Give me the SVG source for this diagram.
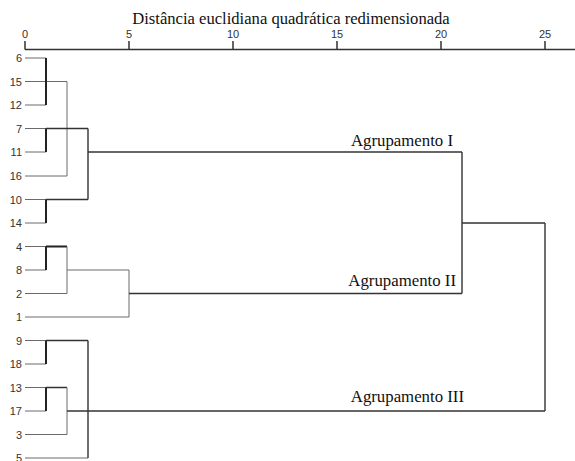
<svg xmlns="http://www.w3.org/2000/svg" width="575" height="461" viewBox="0 0 575 461">
<style>
.title{font-family:"Liberation Serif","Times New Roman",serif;font-size:16.6px;fill:#111}
.grp{font-family:"Liberation Serif","Times New Roman",serif;font-size:16.8px;fill:#111;text-anchor:end}
.tick{font-family:"Liberation Sans",Arial,sans-serif;font-size:11px;fill:#333;text-anchor:middle}
.leaf{font-family:"Liberation Sans",Arial,sans-serif;font-size:11px;fill:#333;text-anchor:end}
.thin{stroke:#6a6a6a;stroke-width:1;fill:none}
.thick{stroke:#222;stroke-width:2;fill:none}
.mid{stroke:#333;stroke-width:1.4;fill:none}
.axis{stroke:#333;stroke-width:1.5;fill:none}
</style>
<rect width="575" height="461" fill="#fff"/>
<g id="axis">
<text class="title" x="291" y="24" text-anchor="middle">Distância euclidiana quadrática redimensionada</text>
<line class="axis" x1="25" y1="49.5" x2="575" y2="49.5"/>
<path class="axis" d="M25 41V49.5M129 41V49.5M233 41V49.5M337 41V49.5M441 41V49.5M545 41V49.5"/>
<text class="tick" x="25" y="38">0</text>
<text class="tick" x="129" y="38">5</text>
<text class="tick" x="233" y="38">10</text>
<text class="tick" x="337" y="38">15</text>
<text class="tick" x="441" y="38">20</text>
<text class="tick" x="545" y="38">25</text>
</g>
<g id="leaves">
<g id="leaf-6"><text class="leaf" x="22" y="62">6</text></g>
<g id="leaf-15"><text class="leaf" x="22" y="85.5">15</text></g>
<g id="leaf-12"><text class="leaf" x="22" y="109">12</text></g>
<g id="leaf-7"><text class="leaf" x="22" y="132.5">7</text></g>
<g id="leaf-11"><text class="leaf" x="22" y="156">11</text></g>
<g id="leaf-16"><text class="leaf" x="22" y="180">16</text></g>
<g id="leaf-10"><text class="leaf" x="22" y="203.5">10</text></g>
<g id="leaf-14"><text class="leaf" x="22" y="227">14</text></g>
<g id="leaf-4"><text class="leaf" x="22" y="250.5">4</text></g>
<g id="leaf-8"><text class="leaf" x="22" y="274">8</text></g>
<g id="leaf-2"><text class="leaf" x="22" y="297.5">2</text></g>
<g id="leaf-1"><text class="leaf" x="22" y="321">1</text></g>
<g id="leaf-9"><text class="leaf" x="22" y="344.5">9</text></g>
<g id="leaf-18"><text class="leaf" x="22" y="368">18</text></g>
<g id="leaf-13"><text class="leaf" x="22" y="391.5">13</text></g>
<g id="leaf-17"><text class="leaf" x="22" y="415">17</text></g>
<g id="leaf-3"><text class="leaf" x="22" y="438.5">3</text></g>
<g id="leaf-5"><text class="leaf" x="22" y="461.5">5</text></g>
</g>
<g id="connectors">
<path class="thin" d="M25 58H46M25 81.5H67M25 105H46M25 128.5H46M25 152H46M25 176H67M25 199.5H46M25 223H46M25 246.5H46M25 270H46M25 293.5H67M25 317H129M25 340.5H46M25 364H46M25 387.5H46M25 411H46M25 434.5H67M25 458H88"/>
<path class="thick" d="M46 58V105M46 128.5V152M46 199.5V223"/>
<path class="thin" d="M67 81.5V176"/>
<path class="mid" d="M46 128.5H88M46 199.5H88M88 128.5V199.5"/>
<path class="mid" d="M88 152H462"/>
<path class="thick" d="M46 246.5V270M46 246.5H67"/>
<path class="thin" d="M67 246.5V293.5M67 270H129M129 270V317"/>
<path class="mid" d="M129 293.5H462"/>
<path class="thick" d="M46 340.5V364M46 387.5V411"/>
<path class="mid" d="M46 340.5H88M46 387.5H67M88 340.5V458"/>
<path class="thin" d="M67 387.5V434.5"/>
<path class="mid" d="M67 411H545"/>
<path class="mid" d="M462 152V293.5M462 223H545M545 223V411"/>
</g>
<g id="group-labels">
<g id="grp-I"><text class="grp" x="453" y="146">Agrupamento I</text></g>
<g id="grp-II"><text class="grp" x="456" y="286">Agrupamento II</text></g>
<g id="grp-III"><text class="grp" x="464" y="402">Agrupamento III</text></g>
</g>
</svg>
